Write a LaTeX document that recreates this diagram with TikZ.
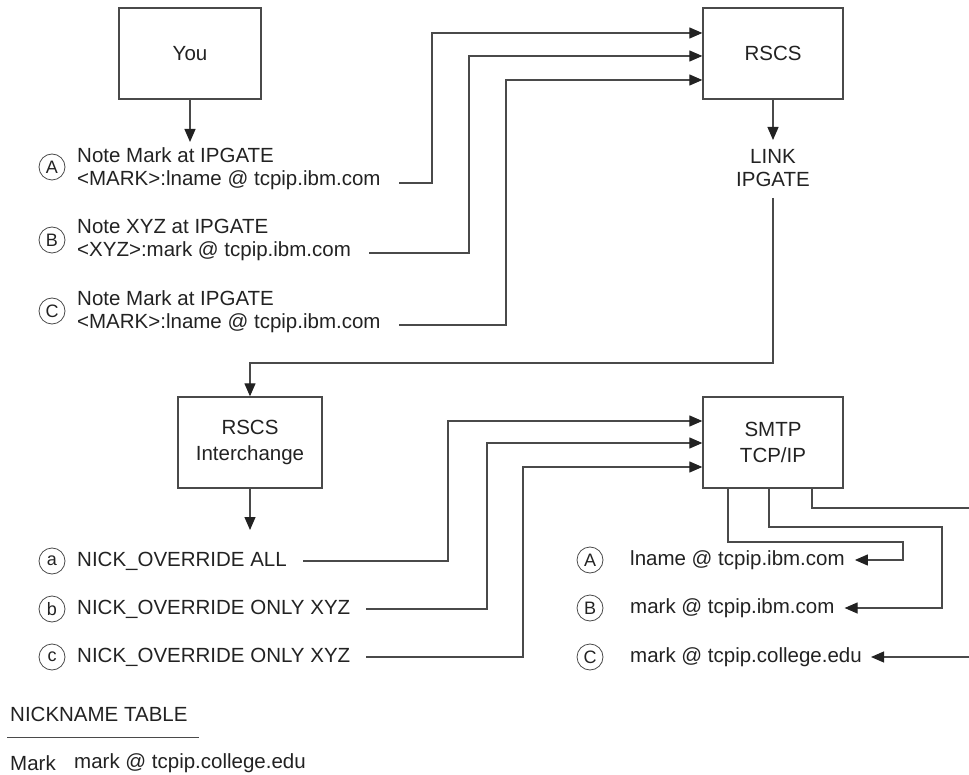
\documentclass[tikz,border=0pt]{standalone}
\usepackage{fontspec}
\setmainfont{Liberation Sans}
\usepackage{xcolor}
\definecolor{ink}{HTML}{222222}
\definecolor{wire}{HTML}{4A4A4A}
\usetikzlibrary{arrows.meta,positioning,calc}

\begin{document}
\begin{tikzpicture}[x=1pt, y=1pt, >={Triangle[length=13pt,width=11pt,color=ink]},
		font=\fontsize{20.5}{23}\selectfont, text=ink,
		blk/.style={draw=wire, line width=1.3pt, minimum width=142pt, minimum height=91pt,
			inner sep=0pt, align=center, font=\fontsize{20.5}{25.5}\selectfont},
		conn/.style={draw=wire, line width=1.2pt},
		lbl/.style={anchor=west, inner sep=0pt, align=left},
		tag/.style={draw=wire, circle, line width=0.8pt, minimum size=26pt, inner sep=0pt,
			font=\fontsize{18}{18}\selectfont}]
	\useasboundingbox (0,0) rectangle (969,-775);

	\node[blk] (you) at (190,-53.5) {You};
	\node[blk, minimum width=140pt] (rscs) at (773,-53.5) {RSCS};
	\node[blk, minimum width=144pt] (inter) at (250,-442.5) {RSCS\\Interchange};
	\node[blk, minimum width=140pt] (smtp) at (773,-442.5) {SMTP\\TCP/IP};

	\node[align=center, inner sep=0pt] (link) at (773,-168.5) {LINK\\IPGATE};

	% notes sent to RSCS
	\node[tag] (tA) at (52,-167) {A};
	\node[tag] (tB) at (52,-240) {B};
	\node[tag] (tC) at (52,-311) {C};
	\node[lbl] (noteA) at (77,-168.5) {Note Mark at IPGATE\\<MARK>:lname @ tcpip.ibm.com};
	\node[lbl] (noteB) at (77,-240) {Note XYZ at IPGATE\\<XYZ>:mark @ tcpip.ibm.com};
	\node[lbl] (noteC) at (77,-311.5) {Note Mark at IPGATE\\<MARK>:lname @ tcpip.ibm.com};

	\coordinate (srcA) at (399,-183);
	\coordinate (srcB) at (369,-253);
	\coordinate (srcC) at (399,-325);

	% overrides
	\node[tag] (ta) at (52,-561) {a};
	\node[tag] (tb) at (52,-609) {b};
	\node[tag] (tc) at (52,-657) {c};
	\node[lbl] (nickA) at (77,-561) {NICK\_OVERRIDE ALL};
	\node[lbl] (nickB) at (77,-609) {NICK\_OVERRIDE ONLY XYZ};
	\node[lbl] (nickC) at (77,-657) {NICK\_OVERRIDE ONLY XYZ};

	\coordinate (srcNa) at (303,-561);
	\coordinate (srcNb) at (366,-609);
	\coordinate (srcNc) at (366,-657);

	% resulting addresses
	\node[tag] (rA) at (590,-560) {A};
	\node[tag] (rB) at (590,-608) {B};
	\node[tag] (rC) at (590,-657) {C};
	\node[lbl] (addrA) at (630,-560) {lname @ tcpip.ibm.com};
	\node[lbl] (addrB) at (630,-608) {mark @ tcpip.ibm.com};
	\node[lbl] (addrC) at (630,-657) {mark @ tcpip.college.edu};

	\coordinate (edgeTop) at (969,-508);
	\coordinate (edgeBot) at (969,-657);
	\coordinate (interOut) at (250,-530);

	% nickname table
	\node[lbl] (nickTab) at (10,-714) {NICKNAME TABLE};
	\draw[wire, line width=1pt] (7,-737) -- (199,-737);
	\node[lbl] (tabKey) at (10,-763) {Mark};
	\node[lbl] (tabVal) at (74,-763) {mark @ tcpip.college.edu};

	% connectors
	\draw[conn, ->] (you.south) -- (you.south |- 0,-142);
	\foreach \s/\x/\y in {srcA/432/-33, srcB/469/-56, srcC/506/-80} {
		\draw[conn, ->] (\s) -| (\x,\y) -- (rscs.west |- 0,\y);
	}
	\draw[conn, ->] (rscs.south) -- (rscs.south |- 0,-140);
	\draw[conn, ->] (link.south |- 0,-198) |- (inter.north |- 0,-363) -- (inter.north);
	\draw[conn, ->] (inter.south) -- (interOut);
	\foreach \s/\x/\y in {srcNa/448/-421, srcNb/487/-443, srcNc/523/-467} {
		\draw[conn, ->] (\s) -| (\x,\y) -- (smtp.west |- 0,\y);
	}
	\draw[conn, ->] (smtp.south -| 728,0) |- (903,-542) |- ([xshift=10pt]addrA.east);
	\draw[conn, ->] (smtp.south -| 769,0) |- (942,-527) |- ([xshift=10pt]addrB.east);
	\draw[conn] (smtp.south -| 812,0) |- (edgeTop);
	\draw[conn, ->] (edgeBot) -- ([xshift=9pt]addrC.east);
\end{tikzpicture}
\end{document}
